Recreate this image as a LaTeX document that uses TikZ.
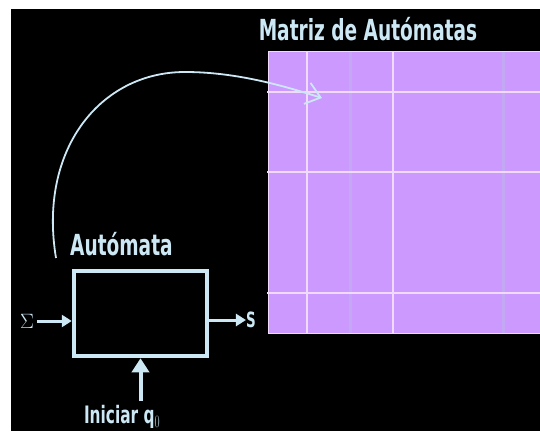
\documentclass[tikz,border=0pt]{standalone}
\usepackage{fontspec}
\setmainfont{Liberation Sans}
\newfontfamily\gruesa{DejaVu Sans}
\usepackage{graphicx}
\usetikzlibrary{arrows.meta,positioning}
\definecolor{celeste}{HTML}{CCE8F5}
\definecolor{lila}{HTML}{CC99FF}
\definecolor{rejilla}{HTML}{F2DAFF}
\definecolor{banda}{HTML}{C3A8F4}
\newcommand{\angosto}[1]{\scalebox{0.64}[1]{\gruesa\bfseries #1}}
\tikzstyle{titulo} = [text=celeste, font=\fontsize{29}{29}\selectfont, inner sep=0pt]
\tikzstyle{caja} = [draw=celeste, line width=4.5pt, rectangle, minimum width=133pt, minimum height=85pt, inner sep=0pt]
\tikzstyle{flecha} = [draw=celeste, line width=3pt, -{Triangle[width=12pt,length=10pt]}]
\tikzstyle{matriz} = [fill=lila, draw=rejilla, line width=1pt, rectangle, minimum width=272pt, minimum height=281pt, inner sep=0pt]

\begin{document}
\begin{tikzpicture}[x=1pt,y=1pt]
						\useasboundingbox (0,0) rectangle (540,431);
						\fill[black] (11,0) rectangle (540,422);
						% matriz de automatas
						\node [matriz] (mat) at (404,238.5) {};
						\foreach \xb in {350,503}
							\draw[banda, line width=3pt] (\xb,98) -- (\xb,379);
						\foreach \xv in {307,393}
							\draw[rejilla, line width=1.2pt] (\xv,98) -- (\xv,379);
						\foreach \yh in {339,259,138}
							\draw[rejilla, line width=1.2pt] (267,\yh) -- (540,\yh);
						\node[titulo] (tmat) at (368,402) {\angosto{Matriz de Autómatas}};
						% automata
						\node [caja] (aut) at (140.5,117.5) {};
						\node[titulo, anchor=west] (taut) at (70,187) {\angosto{Autómata}};
						\node[text=celeste, font=\fontsize{21}{21}\selectfont] (sigma) at (27,110) {$\Sigma$};
						\node[titulo, font=\fontsize{21}{21}\selectfont] (salida) at (251,111) {\angosto{S}};
						\node[titulo, font=\fontsize{24}{24}\selectfont] (ini) at (122,14) {\angosto{Iniciar q$_0$}};
						\draw[flecha] (sigma.east) -- (sigma.east -| aut.west);
						\draw[flecha] (salida.west -| aut.east) -- (salida.west);
						\draw[draw=celeste, line width=4pt, -{Triangle[width=17pt,length=14pt]}] ([yshift=4pt]ini.north -| aut.south) -- (aut.south);
						% arco hacia la matriz
						\coordinate (inicio) at (56,173);
						\coordinate (celda) at (322,333);
						\draw[celeste, line width=1.8pt, -{Straight Barb[length=14pt,width=22pt]}] (inicio) .. controls (38,281) and (100,359) .. (185,359) .. controls (240,359) and (290,343) .. (celda);
					\end{tikzpicture}
\end{document}
